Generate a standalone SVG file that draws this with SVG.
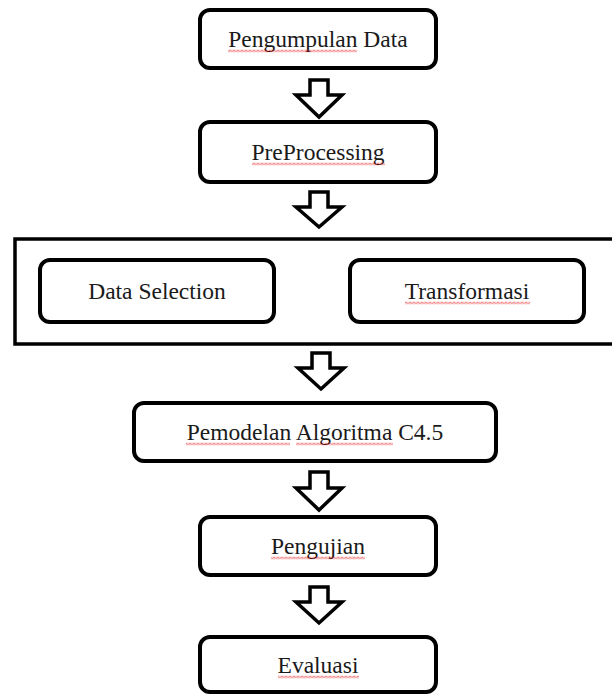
<svg xmlns="http://www.w3.org/2000/svg" width="612" height="695" viewBox="0 0 612 695">
<defs>
<pattern id="wave" x="0" y="0" width="4" height="3" patternUnits="userSpaceOnUse">
<path d="M0,2.5 L2,0.5 L4,2.5" fill="none" stroke="#e00000" stroke-width="0.9"/>
</pattern>
</defs>
<style>
.box{fill:#fff;stroke:#000;stroke-width:4}
.frame{fill:#fff;stroke:#000;stroke-width:3.5}
.arrow{fill:#fff;stroke:#000;stroke-width:3.5;stroke-linejoin:miter}
.lbl{font-family:"Liberation Serif","Times New Roman",serif;font-size:23.5px;fill:#1a1a1a;text-anchor:middle}
.sq{fill:url(#wave)}
</style>
<rect width="612" height="695" fill="#fff"/>
<g id="n1">
<rect class="box" x="200" y="10" width="236" height="58" rx="10"/>
<text class="lbl" x="318" y="47">Pengumpulan Data</text>
<rect class="sq" x="228" y="0" width="129" height="3" transform="translate(0,49.5)"/>
</g>
<g id="n2">
<rect class="box" x="200" y="122" width="236" height="60" rx="10"/>
<text class="lbl" x="318" y="160">PreProcessing</text>
<rect class="sq" x="252" y="0" width="133" height="3" transform="translate(0,162.5)"/>
</g>
<g id="group">
<rect class="frame" x="15" y="239" width="603" height="105"/>
</g>
<g id="n3">
<rect class="box" x="40" y="260" width="234" height="62" rx="10"/>
<text class="lbl" x="157" y="299">Data Selection</text>
</g>
<g id="n4">
<rect class="box" x="350" y="260" width="234" height="62" rx="10"/>
<text class="lbl" x="467" y="299">Transformasi</text>
<rect class="sq" x="405" y="0" width="125" height="3" transform="translate(0,301.5)"/>
</g>
<g id="n5">
<rect class="box" x="134" y="403" width="362" height="58" rx="10"/>
<text class="lbl" x="315" y="440">Pemodelan Algoritma C4.5</text>
<rect class="sq" x="186" y="0" width="104" height="3" transform="translate(0,442.5)"/>
<rect class="sq" x="296" y="0" width="97" height="3" transform="translate(0,442.5)"/>
</g>
<g id="n6">
<rect class="box" x="200" y="517" width="236" height="58" rx="10"/>
<text class="lbl" x="318" y="554">Pengujian</text>
<rect class="sq" x="271" y="0" width="94" height="3" transform="translate(0,556.5)"/>
</g>
<g id="n7">
<rect class="box" x="200" y="637" width="236" height="55" rx="10"/>
<text class="lbl" x="318" y="673">Evaluasi</text>
<rect class="sq" x="278" y="0" width="81" height="3" transform="translate(0,675.5)"/>
</g>
<g id="connectors">
<polygon class="arrow" points="310,80 328,80 328,95 342,95 319,117 296,95 310,95"/>
<polygon class="arrow" points="310,192 328,192 328,207 342,207 319,227 296,207 310,207"/>
<polygon class="arrow" points="312,353 330,353 330,368 344,368 321,389 298,368 312,368"/>
<polygon class="arrow" points="310,472 328,472 328,488 342,488 319,510 296,488 310,488"/>
<polygon class="arrow" points="310,587 328,587 328,602 342,602 319,623 296,602 310,602"/>
</g>
</svg>
